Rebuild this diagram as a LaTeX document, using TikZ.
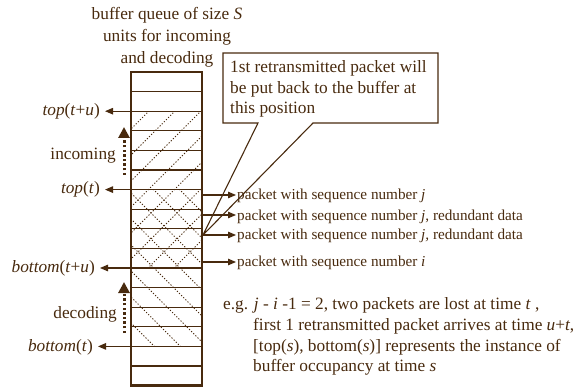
\documentclass[tikz,border=0pt]{standalone}
\usepackage{fontspec}
\setmainfont{Liberation Serif}
\usetikzlibrary{arrows.meta}
\definecolor{brn}{RGB}{72,42,14}
\begin{document}
\begin{tikzpicture}[x=1pt,y=-1pt,
  every node/.style={text=brn, inner sep=0pt},
  big/.style={font=\fontsize{17.3}{20}\selectfont},
  small/.style={font=\fontsize{15.2}{18}\selectfont},
  arr/.style={draw=brn, line width=1.1pt, -{Triangle[length=8pt,width=6.5pt]}},
  hatch/.style={draw=brn, line width=1pt, dash pattern=on 1.2pt off 1.8pt},
  cell/.style={draw=brn, line width=1.1pt},
  dotarr/.style={draw=brn, line width=3pt, dash pattern=on 2.4pt off 2.2pt, -{Triangle[length=11pt,width=11pt]}},
  colbox/.style={draw=brn, line width=2.5pt},
  callout/.style={draw=brn, line width=1.1pt},
]
\useasboundingbox (0,0) rectangle (580,387);

% title
\node[big, anchor=base] (t1) at (167,20) {buffer queue of size \textit{S}};
\node[big, anchor=base] (t2) at (167,42) {units for incoming};
\node[big, anchor=base] (t3) at (167,64) {and decoding};

% hatching
\begin{scope}
\clip (131,111.2) rectangle (202,268);
\foreach \k in {0,...,9} {
  \pgfmathsetmacro\c{234+26*\k}
  \draw[hatch] (\c-400,400) -- (\c-100,100);
}
\end{scope}
\begin{scope}
\clip (131,189.6) rectangle (202,346.4);
\foreach \k in {0,...,9} {
  \pgfmathsetmacro\c{-218+26*\k}
  \draw[hatch] (\c+100,100) -- (\c+400,400);
}
\end{scope}

% cells
\foreach \k in {1,...,15} {
  \draw[cell] (131,72+19.6*\k) -- (202,72+19.6*\k);
}
\draw[colbox] (131,72) rectangle (202,385.6);

% left arrows and labels
\coordinate (a1) at (131,111.2);
\coordinate (a2) at (131,189.6);
\coordinate (a3) at (131,268);
\coordinate (a4) at (131,346.4);
\coordinate (e1) at (105,111.2);
\coordinate (e2) at (105,189.6);
\coordinate (e3) at (100,268);
\coordinate (e4) at (98,346.4);
\draw[arr] (a1) -- (e1);
\draw[arr] (a2) -- (e2);
\draw[arr] (a3) -- (e3);
\draw[arr] (a4) -- (e4);
\node[big, anchor=base east] (l1) at (100,115.5) {\textit{top}(\textit{t}+\textit{u})};
\node[big, anchor=base east] (l2) at (100,194) {\textit{top}(\textit{t})};
\node[big, anchor=base east] (l3) at (95,272.5) {\textit{bottom}(\textit{t}+\textit{u})};
\node[big, anchor=base east] (l4) at (93,351) {\textit{bottom}(\textit{t})};

% incoming / decoding
\coordinate (i0) at (124,175);
\coordinate (i1) at (124,127);
\coordinate (d0) at (124,333);
\coordinate (d1) at (124,282);
\draw[dotarr] (i0) -- (i1);
\draw[dotarr] (d0) -- (d1);
\node[big, anchor=base east] (inc) at (116,160) {incoming};
\node[big, anchor=base east] (dec) at (117,318) {decoding};

% callout
\draw[callout] (223,53) -- (438,53) -- (438,123) -- (313,123) -- (203,235) -- (258,123) -- (223,123) -- cycle;
\node[big, anchor=base west] (c1) at (230,73) {1st retransmitted packet will};
\node[big, anchor=base west] (c2) at (230,93.5) {be put back to the buffer at};
\node[big, anchor=base west] (c3) at (230,114) {this position};

% right arrows and labels
\coordinate (r1) at (202,195);
\coordinate (r2) at (202,215);
\coordinate (r3) at (202,235);
\coordinate (r4) at (202,262);
\coordinate (s1) at (236,195);
\coordinate (s2) at (236,215);
\coordinate (s3) at (236,235);
\coordinate (s4) at (236,262);
\draw[arr] (r1) -- (s1);
\draw[arr] (r2) -- (s2);
\draw[arr] (r3) -- (s3);
\draw[arr] (r4) -- (s4);
\node[small, anchor=base west] (p1) at (237,200) {packet with sequence number \textit{j}};
\node[small, anchor=base west] (p2) at (237,220) {packet with sequence number \textit{j}, redundant data};
\node[small, anchor=base west] (p3) at (237,240) {packet with sequence number \textit{j,} redundant data};
\node[small, anchor=base west] (p4) at (237,266) {packet with sequence number \textit{i}};

% bottom note
\node[big, anchor=base west] (n1) at (223,309) {e.g. \textit{j} - \textit{i} -1 = 2, two packets are lost at time \textit{t} ,};
\node[big, anchor=base west] (n2) at (253,330) {first 1 retransmitted packet arrives at time \textit{u}+\textit{t},};
\node[big, anchor=base west] (n3) at (253,351) {[top(\textit{s}), bottom(\textit{s})] represents the instance of};
\node[big, anchor=base west] (n4) at (253,371) {buffer occupancy at time \textit{s}};
\end{tikzpicture}
\end{document}
